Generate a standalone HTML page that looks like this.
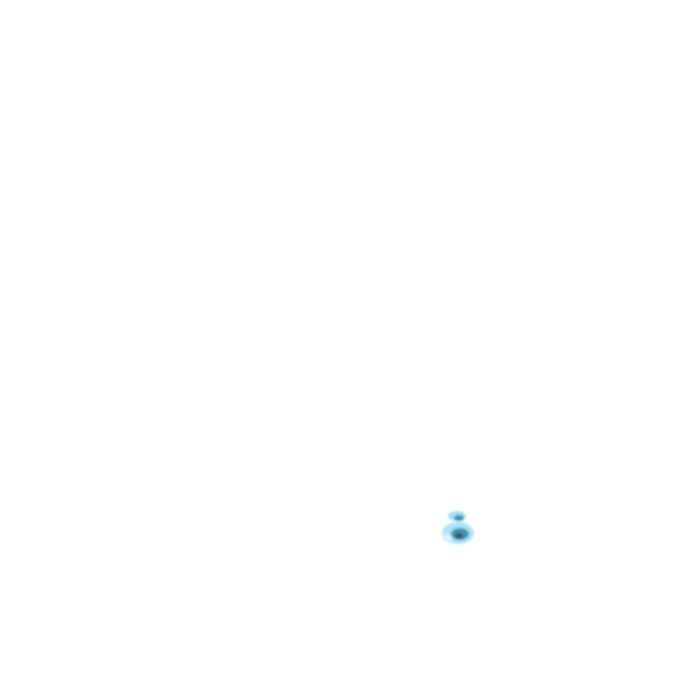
<!DOCTYPE html>
<html><head><meta charset="utf-8"><style>
html,body{margin:0;padding:0;background:#fff;width:683px;height:683px;overflow:hidden}
</style></head><body>
<svg width="683" height="683" viewBox="0 0 683 683" xmlns="http://www.w3.org/2000/svg">
<defs><filter id="b" x="-50%" y="-50%" width="200%" height="200%"><feGaussianBlur stdDeviation="1.2"/></filter></defs>
<g filter="url(#b)">
<ellipse cx="457" cy="516" rx="9" ry="5" fill="#9fe3f5"/>
<ellipse cx="459" cy="518" rx="5" ry="3" fill="#3f8fb0"/>
<ellipse cx="458" cy="533" rx="16" ry="11" fill="#a8e6f7"/>
<ellipse cx="460" cy="534" rx="9" ry="6" fill="#4a8fae"/>
<ellipse cx="459" cy="536" rx="4" ry="3" fill="#2a5e78"/>
<ellipse cx="447" cy="538" rx="5" ry="4" fill="#d4f4fc"/>
</g>
</svg>
</body></html>
